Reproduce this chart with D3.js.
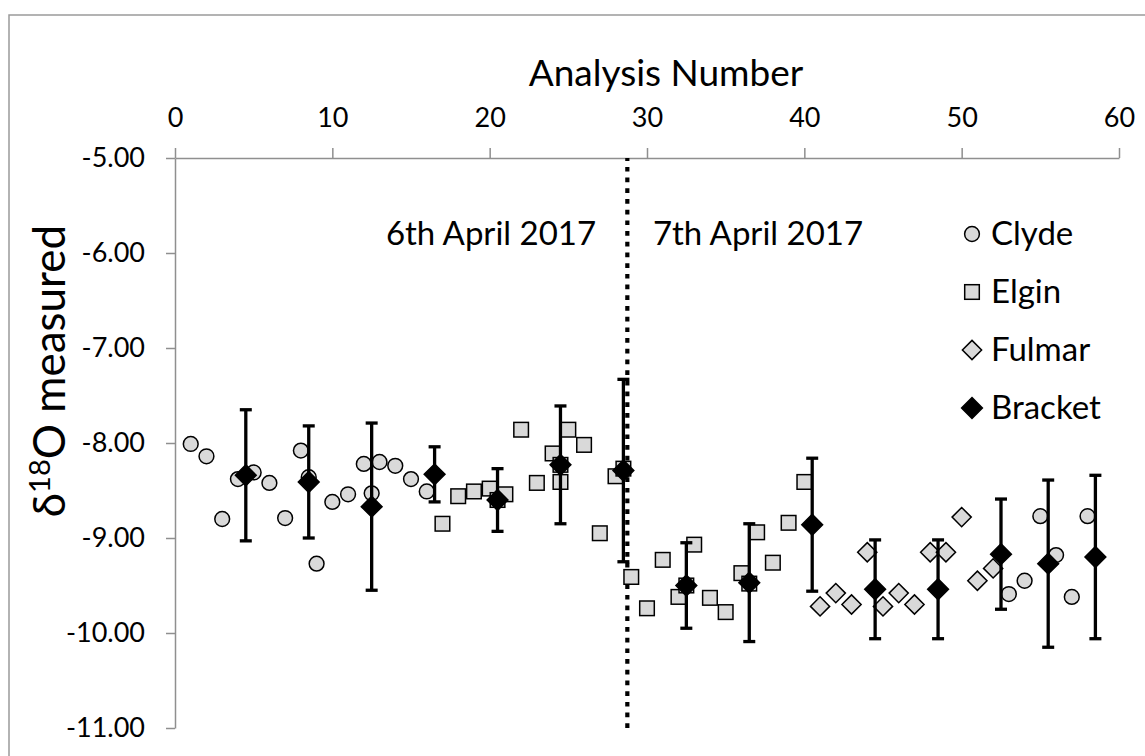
<!DOCTYPE html>
<html>
<head>
<meta charset="utf-8">
<script src="https://cdn.jsdelivr.net/npm/d3@7"></script>
<style>
  html, body { margin: 0; padding: 0; background: #fff; }
  svg { display: block; font-family: Lato, "Open Sans", sans-serif; }
</style>
</head>
<body>
<svg id="chart" width="1145" height="756"></svg>
<script>
// Axis ticks
const xTicks = [0, 10, 20, 30, 40, 50, 60];
const yTicks = [-5, -6, -7, -8, -9, -10, -11];

// Clyde standard
const clydeX = [1, 2, 3, 4, 5, 6, 7, 8, 8.5, 9, 10, 11, 12, 12.5, 13, 14, 15, 16,
                53, 54, 55, 56, 57, 58];
const clydeY = [-8.01, -8.14, -8.80, -8.38, -8.31, -8.42, -8.79, -8.08, -8.36, -9.27,
                -8.62, -8.54, -8.22, -8.53, -8.20, -8.24, -8.38, -8.51,
                -9.59, -9.45, -8.77, -9.18, -9.62, -8.77];

// Elgin standard
const elginX = [17, 18, 19, 20, 20.5, 21, 22, 23, 24, 24.5, 24.5, 25, 26, 27, 28, 28.5,
                29, 30, 31, 32, 32.5, 33, 34, 35, 36, 36.5, 37, 38, 39, 40];
const elginY = [-8.85, -8.56, -8.51, -8.48, -8.60, -8.54, -7.86, -8.42, -8.11, -8.41, -8.23,
                -7.86, -8.02, -8.95, -8.35, -8.27,
                -9.41, -9.74, -9.23, -9.62, -9.50, -9.07, -9.63, -9.78, -9.37, -9.48,
                -8.94, -9.26, -8.84, -8.41];

// Fulmar standard
const fulmarX = [41, 42, 43, 44, 45, 46, 47, 48, 49, 50, 51, 52];
const fulmarY = [-9.72, -9.58, -9.70, -9.15, -9.72, -9.58, -9.70, -9.15, -9.15, -8.78, -9.45, -9.32];

// Bracketing standard means with their error bars
const bracketX = [4.5, 8.5, 12.5, 16.5, 20.5, 24.5, 28.5, 32.5, 36.5, 40.5, 44.5, 48.5, 52.5, 55.5, 58.5];
const bracketY = [-8.34, -8.41, -8.67, -8.33, -8.60, -8.23, -8.29, -9.50, -9.47, -8.86,
                  -9.54, -9.54, -9.17, -9.27, -9.20];
const bracketErr = [0.69, 0.59, 0.88, 0.29, 0.33, 0.62, 0.96, 0.45, 0.62, 0.70,
                    0.52, 0.52, 0.58, 0.88, 0.86];

// Session boundary between the two days
const dayBreakX = 28.75;
const dayLabels = ["6th April 2017", "7th April 2017"];

const seriesNames = ["Clyde", "Elgin", "Fulmar", "Bracket"];

const svg = d3.select("#chart");
const W = 1145, H = 756;
const plot = { left: 175, right: 1119, top: 158, bottom: 728 };

const x = d3.scaleLinear().domain([0, 60]).range([plot.left, plot.right]);
const y = d3.scaleLinear().domain([-5, -11]).range([plot.top, plot.bottom]);

const AXIS = "#8f8f8f";
const FILL = "#d9d9d9";

// outer chart frame
svg.append("rect")
  .attr("x", 9).attr("y", 15)
  .attr("width", W + 20).attr("height", H + 20)
  .attr("fill", "none").attr("stroke", "#9a9a9a").attr("stroke-width", 1.5);

// axes
const xAxis = svg.append("g")
  .attr("transform", `translate(0,${plot.top})`)
  .call(d3.axisTop(x).tickValues(xTicks).tickSize(10).tickSizeOuter(0).tickPadding(21)
        .tickFormat(d3.format("d")));
const yAxis = svg.append("g")
  .attr("transform", `translate(${plot.left},0)`)
  .call(d3.axisLeft(y).tickValues(yTicks).tickSize(9).tickSizeOuter(0).tickPadding(21)
        .tickFormat(d => d.toFixed(2)));

[xAxis, yAxis].forEach(g => {
  g.select(".domain").attr("stroke", AXIS).attr("stroke-width", 1.5);
  g.selectAll(".tick line").attr("stroke", AXIS).attr("stroke-width", 1.5);
  g.selectAll(".tick text").attr("fill", "#000").attr("font-size", 27)
    .attr("font-family", "Lato, 'Open Sans', sans-serif");
});

// axis titles
svg.append("text")
  .attr("x", 666).attr("y", 86)
  .attr("text-anchor", "middle").attr("font-size", 37).attr("fill", "#000")
  .text("Analysis Number");

const yTitle = svg.append("text")
  .attr("transform", "translate(65,371) rotate(-90)")
  .attr("text-anchor", "middle").attr("font-size", 44).attr("fill", "#000");
yTitle.append("tspan").text("δ");
yTitle.append("tspan").attr("font-size", 29).attr("dy", -15).text("18");
yTitle.append("tspan").attr("dy", 15).text("O measured");

// dotted line separating the two analytical sessions
svg.append("line")
  .attr("x1", x(dayBreakX)).attr("x2", x(dayBreakX))
  .attr("y1", y(-11)).attr("y2", y(-5))
  .attr("stroke", "#000").attr("stroke-width", 4.2)
  .attr("stroke-dasharray", "4.7 6");

// session labels
svg.append("text").attr("x", 491).attr("y", 245).attr("text-anchor", "middle")
  .attr("font-size", 33).attr("fill", "#000").text(dayLabels[0]);
svg.append("text").attr("x", 758).attr("y", 245).attr("text-anchor", "middle")
  .attr("font-size", 33).attr("fill", "#000").text(dayLabels[1]);

// marker shapes
const diamondPath = (cx, cy, h) => `M${cx},${cy - h}L${cx + h},${cy}L${cx},${cy + h}L${cx - h},${cy}Z`;

function drawCircles(g, xs, ys) {
  g.selectAll("circle").data(xs.map((d, i) => [d, ys[i]])).join("circle")
    .attr("cx", d => x(d[0])).attr("cy", d => y(d[1])).attr("r", 7.4)
    .attr("fill", FILL).attr("stroke", "#000").attr("stroke-width", 1.5);
}
function drawSquares(g, xs, ys) {
  const s = 14.6;
  g.selectAll("rect").data(xs.map((d, i) => [d, ys[i]])).join("rect")
    .attr("x", d => x(d[0]) - s / 2).attr("y", d => y(d[1]) - s / 2)
    .attr("width", s).attr("height", s)
    .attr("fill", FILL).attr("stroke", "#000").attr("stroke-width", 1.5);
}
function drawDiamonds(g, xs, ys, h, fill) {
  g.selectAll("path").data(xs.map((d, i) => [d, ys[i]])).join("path")
    .attr("d", d => diamondPath(x(d[0]), y(d[1]), h))
    .attr("fill", fill).attr("stroke", "#000").attr("stroke-width", 1.5);
}

drawCircles(svg.append("g"), clydeX, clydeY);
drawSquares(svg.append("g"), elginX, elginY);
drawDiamonds(svg.append("g"), fulmarX, fulmarY, 9.6, FILL);

// bracket error bars
const eb = svg.append("g").attr("stroke", "#000").attr("stroke-width", 3.3);
const brData = bracketX.map((d, i) => ({ x: d, y: bracketY[i], e: bracketErr[i] }));
eb.selectAll("line.v").data(brData).join("line").attr("class", "v")
  .attr("x1", d => x(d.x)).attr("x2", d => x(d.x))
  .attr("y1", d => y(d.y + d.e)).attr("y2", d => y(d.y - d.e));
eb.selectAll("line.t").data(brData).join("line").attr("class", "t")
  .attr("x1", d => x(d.x) - 6).attr("x2", d => x(d.x) + 6)
  .attr("y1", d => y(d.y + d.e)).attr("y2", d => y(d.y + d.e));
eb.selectAll("line.b").data(brData).join("line").attr("class", "b")
  .attr("x1", d => x(d.x) - 6).attr("x2", d => x(d.x) + 6)
  .attr("y1", d => y(d.y - d.e)).attr("y2", d => y(d.y - d.e));

drawDiamonds(svg.append("g"), bracketX, bracketY, 10.4, "#000");

// legend
const legend = svg.append("g");
const legX = 972, legY0 = 234, legStep = 58;
seriesNames.forEach((name, i) => {
  const cy = legY0 + i * legStep;
  const g = legend.append("g");
  if (i === 0) {
    g.append("circle").attr("cx", legX).attr("cy", cy).attr("r", 7.4)
      .attr("fill", FILL).attr("stroke", "#000").attr("stroke-width", 1.5);
  } else if (i === 1) {
    g.append("rect").attr("x", legX - 7.3).attr("y", cy - 7.3).attr("width", 14.6).attr("height", 14.6)
      .attr("fill", FILL).attr("stroke", "#000").attr("stroke-width", 1.5);
  } else {
    g.append("path").attr("d", diamondPath(legX, cy, i === 2 ? 9.6 : 10.4))
      .attr("fill", i === 2 ? FILL : "#000").attr("stroke", "#000").attr("stroke-width", 1.5);
  }
  g.append("text").attr("x", 991).attr("y", cy + 11).attr("font-size", 33)
    .attr("fill", "#000").text(name);
});
</script>
</body>
</html>
